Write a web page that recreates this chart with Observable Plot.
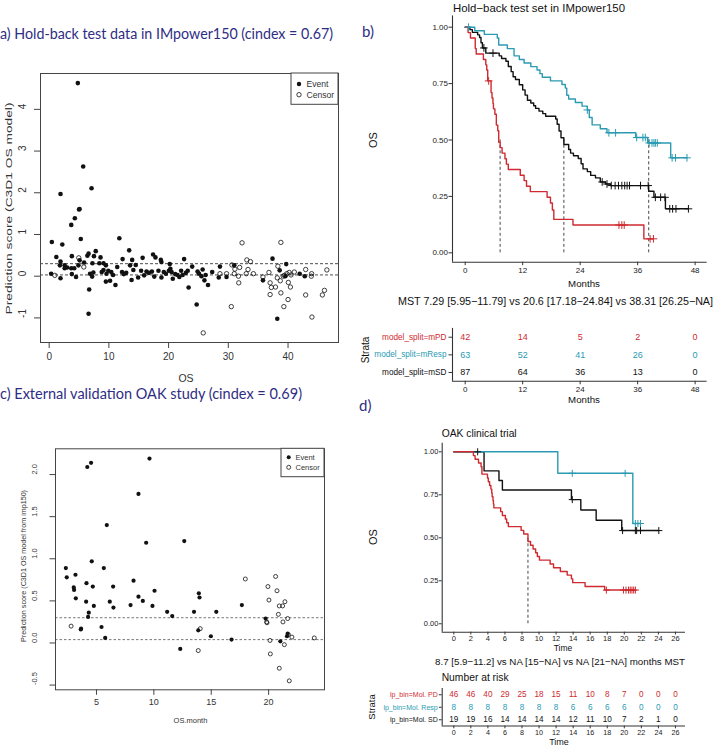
<!DOCTYPE html>
<html><head><meta charset="utf-8">
<script src="https://cdn.jsdelivr.net/npm/d3@7"></script>
<script src="https://cdn.jsdelivr.net/npm/@observablehq/plot@0.6"></script>
<style>
html,body{margin:0;padding:0;background:#fff;}
#root{position:relative;width:715px;height:746px;overflow:hidden;background:#fff;}
</style></head><body><div id="root"></div>
<script>
// ---------------- DATA ----------------
// Panel a: hold-back test data scatter (OS vs prediction score)
const a_event_os = [0.33,0.45,1.2,1.9,1.9,1.9,1.8,2.2,2.6,2.6,3.0,3.7,3.8,3.7,3.8,4.3,4.2,4.5,4.8,5.0,5.1,5.1,5.3,4.9,5.7,5.85,6.4,6.6,6.7,6.6,7.1,6.85,7.2,7.25,7.5,7.8,7.4,8.4,8.6,8.8,9.1,9.1,9.5,9.5,9.6,9.9,10.2,10.4,10.7,11.1,11.4,11.75,12.2,12.3,12.5,12.9,13.4,13.55,13.8,13.9,14.1,14.5,14.9,15.4,15.65,15.9,16.3,16.7,17.2,17.4,17.8,17.6,18.3,18.7,18.8,18.8,19.2,19.55,20.05,20.2,20.3,20.5,20.7,21.1,21.5,21.8,22.1,22.35,22.6,22.9,23.2,23.35,23.95,24.7,24.85,25.1,25.5,25.7,26.0,26.2,26.6,27.3,28.4,28.6,29.7,31.0,35.8,37.4,38.2,38.6,39.7,39.55,41.95,42.8];
const a_event_score = [0.06,0.82,0.46,-0.05,1.97,0.35,0.26,0.76,0.19,0.26,0.21,1.23,0.48,0.19,0.05,1.39,0.19,-0.02,4.63,1.6,1.61,0.38,0.89,0.26,2.63,0.33,0.49,0.54,-0.32,-0.90,2.11,0.06,-0.01,0.31,0.48,0.6,0.09,0.31,0.45,0.10,0.31,0.15,0.26,-0.13,0.06,0.13,-0.11,0.10,0.03,-0.21,0.22,0.91,0.10,0.41,0.05,0.08,0.62,0.26,-0.09,0.39,0.15,0.27,-0.03,0.13,0.44,0.02,0.11,0.08,0.11,0.52,0.45,-0.01,0.13,0.39,0.34,-0.03,0.10,0.06,0.13,0.29,0.18,0.10,-0.06,0.05,0.03,-0.02,0.13,0.03,0.41,0.08,0.13,-0.27,0.23,-0.68,0.11,0.06,0.0,0.16,-0.10,0.03,-0.21,0.10,-0.03,0.23,-0.02,0.26,-0.10,0.42,-1.02,0.14,0.29,0.0,0.06,0.0];
const a_censor_os = [0.95,4.96,5.8,25.8,28.6,29.7,30.5,30.6,31.0,31.1,31.7,31.75,31.9,32.3,33.0,33.1,33.3,33.7,34.2,35.8,36.8,37.0,37.0,37.2,37.9,38.2,38.3,38.7,38.8,38.8,39.2,39.3,39.4,39.8,40.0,40.05,40.2,40.4,40.5,41.05,42.95,42.95,43.9,43.95,44.0,45.75,46.1,46.5];
const a_censor_score = [0.02,0.44,0.22,-1.36,0.06,0.06,-0.73,0.27,0.06,0.17,0.0,-0.16,0.21,0.80,0.06,0.39,0.16,0.35,0.06,-0.02,0.09,-0.16,-0.44,-0.27,-0.26,-0.04,0.24,-0.11,0.81,-0.40,0.0,-0.73,0.02,0.06,-0.56,-0.15,0.09,-0.26,0.03,0.10,0.16,-0.45,0.0,0.06,-0.98,-0.45,-0.34,0.15];
const a_cutoffs = [0.3, 0.03];
const a_xticks = [0,10,20,30,40];
const a_yticks = [-1,0,1,2,3,4];

// Panel c: OAK external validation scatter
const c_event_month = [2.33,2.41,3.17,3.02,3.05,3.2,3.63,3.66,4.13,4.1,4.2,4.27,4.33,4.53,4.59,4.68,4.77,5.44,5.64,5.76,5.9,6.16,6.45,6.48,7.97,8.23,8.66,8.66,9.04,9.33,9.62,9.88,10.06,11.16,11.6,12.3,12.65,13.5,13.87,13.92,13.98,14.97,15.44,16.77,17.67,19.74,21.02,21.6,21.66];
const c_event_score = [0.89,0.78,0.81,0.66,0.63,0.53,0.16,0.17,0.71,0.49,2.09,0.31,0.36,2.14,0.97,0.67,0.44,0.19,0.89,0.06,1.40,0.49,0.67,0.42,0.45,0.74,1.77,0.55,0.50,1.19,2.19,0.44,0.62,0.37,0.32,-0.07,1.21,0.37,0.15,0.59,0.54,0.08,0.37,0.04,0.45,0.29,0.02,0.08,0.11];
const c_censor_month = [2.79,13.87,14.04,17.97,19.83,19.86,19.94,20.03,20.12,20.15,20.61,20.73,20.85,20.93,20.93,21.22,21.25,21.37,21.42,21.66,21.72,21.8,22.03,23.98];
const c_censor_score = [0.20,-0.09,0.17,0.76,0.25,0.24,0.67,0.51,0.03,-0.13,0.79,0.62,0.34,0.44,-0.30,0.44,0.25,-0.02,0.49,0.29,0.10,-0.45,0.07,0.06];
const c_cutoffs = [0.3, 0.04];
const c_xticks = [5,10,15,20];
const c_yticks = [-0.5,0,0.5,1,1.5,2];

// Panel b: KM curves, hold-back test set in IMpower150
const b_mPD_time = [0,0.6,1.1,2.1,2.3,3.8,4.3,4.5,4.7,5.4,5.6,5.8,5.9,6.2,6.5,6.8,7.0,7.3,7.7,8.3,8.6,9.0,11.5,12.3,12.8,13.6,17.1,17.8,18.2,18.5,22.5,37.3,39.3];
const b_mPD_surv = [1,0.976,0.952,0.905,0.881,0.857,0.833,0.81,0.762,0.71,0.686,0.662,0.638,0.614,0.566,0.541,0.49,0.466,0.442,0.417,0.393,0.369,0.344,0.32,0.295,0.271,0.246,0.221,0.19,0.148,0.123,0.062,0.062];
const b_mPD_cens = [4.9,32.1,32.7,33.2,38.6,39.3];
const b_mResp_time = [0,2.0,4.0,6.7,7.0,8.8,10.2,11.3,12.3,13.7,15.0,15.6,16.1,17.8,20.2,20.9,21.2,21.6,23.0,24.4,25.5,25.9,26.5,28.2,29.6,35.6,38.1,42.9,46.3];
const b_mResp_surv = [1,0.984,0.968,0.952,0.921,0.905,0.873,0.857,0.841,0.825,0.81,0.794,0.778,0.762,0.746,0.73,0.698,0.682,0.666,0.65,0.633,0.6,0.567,0.55,0.532,0.511,0.487,0.421,0.421];
const b_mResp_cens = [0.7,25.5,30.0,31.4,35.8,37.1,37.6,38.4,39.0,39.4,39.7,40.1,43.2,43.9,46.3];
const b_mSD_time = [0,1.0,1.5,2.6,3.0,3.3,3.6,4.3,7.1,7.6,8.5,9.0,9.6,10.0,10.5,11.3,12.0,12.5,13.0,13.7,14.3,14.7,15.4,16.2,16.8,18.9,19.2,19.6,20.0,20.6,21.6,22.0,22.6,23.6,24.2,24.6,25.5,26.2,27.2,28.2,29.3,30.3,38.3,39.4,41.8,46.6];
const b_mSD_surv = [1,0.989,0.977,0.966,0.954,0.931,0.908,0.885,0.873,0.861,0.849,0.826,0.803,0.78,0.768,0.745,0.722,0.699,0.676,0.664,0.652,0.64,0.628,0.617,0.605,0.593,0.57,0.54,0.51,0.48,0.458,0.442,0.43,0.418,0.395,0.372,0.36,0.343,0.332,0.314,0.305,0.298,0.273,0.246,0.195,0.195];
const b_mSD_cens = [3.9,5.8,28.6,29.6,30.5,31.3,32.0,32.7,33.3,33.8,34.3,36.6,38.2,39.7,40.8,41.7,42.7,43.3,44.0,46.6];
const b_medians = [7.29, 20.6, 38.31];
const b_xticks = [0,12,24,36,48];
const b_yticks = [0,0.25,0.5,0.75,1];
const b_strata = ["model_split=mPD","model_split=mResp","model_split=mSD"];
const b_risk_times = [0,12,24,36,48];
const b_risk_mPD = [42,14,5,2,0];
const b_risk_mResp = [63,52,41,26,0];
const b_risk_mSD = [87,64,36,13,0];

// Panel d: KM curves, OAK clinical trial
const d_PD_time = [0,2.3,2.5,2.9,3.2,3.3,3.95,4.05,4.2,4.35,4.45,4.5,4.6,4.65,4.7,5.5,5.7,6.05,6.2,6.4,7.9,8.2,8.7,9.0,9.3,9.6,9.8,10.05,11.3,11.7,12.5,13.3,13.8,13.95,15.4,17.7,21.3];
const d_PD_surv = [1,0.978,0.957,0.935,0.913,0.87,0.848,0.826,0.804,0.783,0.761,0.739,0.717,0.696,0.674,0.652,0.63,0.609,0.587,0.565,0.543,0.522,0.478,0.457,0.435,0.413,0.391,0.37,0.348,0.326,0.304,0.283,0.261,0.239,0.217,0.196,0.196];
const d_PD_cens = [17.9,19.9,20.2,20.5,20.7,20.9,21.1,21.3];
const d_Resp_time = [0,12.2,21.0,21.9];
const d_Resp_surv = [1,0.875,0.583,0.583];
const d_Resp_cens = [13.9,20.1,21.3,21.6,21.9];
const d_SD_time = [0,3.55,5.3,5.7,13.8,14.9,16.7,19.7,24.05];
const d_SD_surv = [1,0.889,0.833,0.778,0.722,0.662,0.602,0.542,0.542];
const d_SD_cens = [2.8,13.9,19.8,21.3,21.45,21.9,24.05];
const d_medians = [8.7];
const d_xticks = [0,2,4,6,8,10,12,14,16,18,20,22,24,26];
const d_yticks = [0,0.25,0.5,0.75,1];
const d_strata = ["lp_bin=Mol. PD","lp_bin=Mol. Resp","lp_bin=Mol. SD"];
const d_risk_times = [0,2,4,6,8,10,12,14,16,18,20,22,24,26];
const d_risk_PD = [46,46,40,29,25,18,15,11,10,8,7,0,0,0];
const d_risk_Resp = [8,8,8,8,8,8,8,6,6,6,6,0,0,0];
const d_risk_SD = [19,19,16,14,14,14,14,12,11,10,7,2,1,0];

// ---------------- DRAWING ----------------
const FONT = "'Liberation Sans', Arial, Helvetica, sans-serif";
const TFONT = "Lato, 'Open Sans', sans-serif";
const RED = "#cf2a30", TEAL = "#2a9bb2", BLK = "#111111", NAVY = "#2e2d84";
const root = document.getElementById("root");
function put(svg, left, top) {
  svg.style.position = "absolute"; svg.style.left = left + "px"; svg.style.top = top + "px";
  svg.style.maxWidth = "none"; root.appendChild(svg);
}
const zip = (xs, ys) => xs.map((x, i) => ({x, y: ys[i]}));
function stepAt(T, S, t) { let s = S[0]; for (let i = 0; i < T.length; i++) if (T[i] <= t) s = S[i]; return s; }
const cens = (C, T, S) => C.map(t => ({x: t, y: stepAt(T, S, t)}));

// ---- Panel a ----
put(Plot.plot({
  width: 360, height: 330, marginLeft: 40, marginRight: 22, marginTop: 13, marginBottom: 48,
  style: {fontFamily: FONT, fontSize: "10px", background: "transparent", color: "#333"},
  x: {domain: [-1.45, 48.45]}, y: {domain: [-1.59, 4.86]},
  marks: [
    Plot.ruleY(a_cutoffs, {stroke: "#222", strokeWidth: 0.8, strokeDasharray: "3,2"}),
    Plot.dot(zip(a_event_os, a_event_score), {x: "x", y: "y", r: 2.3, fill: "#111", stroke: "none"}),
    Plot.dot(zip(a_censor_os, a_censor_score), {x: "x", y: "y", r: 2.2, stroke: "#111", strokeWidth: 0.8, fill: "none"}),
    Plot.frame({stroke: "#444", strokeWidth: 1}),
    Plot.axisX({ticks: a_xticks, tickSize: 6, tickPadding: 4, label: null, fontSize: 10, stroke: "#444"}),
    Plot.axisY({ticks: a_yticks, tickSize: 6, tickFormat: () => "", label: null, stroke: "#444"}),
    Plot.text(a_yticks, {y: d => d, text: d => String(d), frameAnchor: "left", dx: -18, rotate: -90, fontSize: 10, fill: "#333"})
  ]
}), 0, 60);

// ---- Panel c ----
put(Plot.plot({
  width: 360, height: 300, marginLeft: 55, marginRight: 36, marginTop: 18.3, marginBottom: 40.7,
  style: {fontFamily: FONT, fontSize: "9px", background: "transparent", color: "#333"},
  x: {domain: [1.43, 24.87]}, y: {domain: [-0.556, 2.306]},
  marks: [
    Plot.ruleY(c_cutoffs, {stroke: "#777", strokeWidth: 1, strokeDasharray: "2.5,2"}),
    Plot.dot(zip(c_event_month, c_event_score), {x: "x", y: "y", r: 2.1, fill: "#111", stroke: "none"}),
    Plot.dot(zip(c_censor_month, c_censor_score), {x: "x", y: "y", r: 2.0, stroke: "#111", strokeWidth: 0.8, fill: "none"}),
    Plot.frame({stroke: "#444", strokeWidth: 1}),
    Plot.axisX({ticks: c_xticks, tickSize: 5.5, tickPadding: 3.5, label: null, fontSize: 9, stroke: "#444"}),
    Plot.axisY({ticks: c_yticks, tickSize: 5.5, tickFormat: () => "", label: null, stroke: "#444"}),
    Plot.text(c_yticks, {y: d => d, text: d => d.toFixed(1), frameAnchor: "left", dx: -21, rotate: -90, fontSize: 7.5, fill: "#333"})
  ]
}), 0, 430);

// ---- Panel b main KM ----
const bX = [-2.65, 50.5];
put(Plot.plot({
  width: 355, height: 300, marginLeft: 92, marginRight: 8.4, marginTop: 15.4, marginBottom: 38.3,
  style: {fontFamily: FONT, fontSize: "8px", background: "transparent", color: "#222"},
  x: {domain: bX}, y: {domain: [-0.0416, 1.05]},
  marks: [
    Plot.ruleX(b_medians, {x: d => d, y1: 0, y2: 0.5, stroke: "#333", strokeWidth: 0.9, strokeDasharray: "3,2.5"}),
    Plot.line(zip(b_mSD_time, b_mSD_surv), {x: "x", y: "y", curve: "step-after", stroke: BLK, strokeWidth: 1.4}),
    Plot.line(zip(b_mResp_time, b_mResp_surv), {x: "x", y: "y", curve: "step-after", stroke: TEAL, strokeWidth: 1.4}),
    Plot.line(zip(b_mPD_time, b_mPD_surv), {x: "x", y: "y", curve: "step-after", stroke: RED, strokeWidth: 1.4}),
    Plot.dot(cens(b_mSD_cens, b_mSD_time, b_mSD_surv), {x: "x", y: "y", symbol: "plus", r: 2.6, stroke: BLK, strokeWidth: 1}),
    Plot.dot(cens(b_mResp_cens, b_mResp_time, b_mResp_surv), {x: "x", y: "y", symbol: "plus", r: 2.6, stroke: TEAL, strokeWidth: 1}),
    Plot.dot(cens(b_mPD_cens, b_mPD_time, b_mPD_surv), {x: "x", y: "y", symbol: "plus", r: 2.6, stroke: RED, strokeWidth: 1}),
    Plot.ruleX([bX[0]], {stroke: "#333", strokeWidth: 1.1}),
    Plot.ruleY([-0.0416], {stroke: "#333", strokeWidth: 1.1}),
    Plot.axisX({ticks: b_xticks, tickSize: 3.5, tickPadding: 1.5, label: null, fontSize: 8, stroke: "#333"}),
    Plot.axisY({ticks: b_yticks, tickSize: 3.5, tickPadding: 1, tickFormat: d => d.toFixed(2), label: null, fontSize: 8, stroke: "#333"})
  ]
}), 360, 0);

// ---- Panel b risk table ----
const bRows = [b_risk_mPD, b_risk_mResp, b_risk_mSD].flatMap((arr, r) => arr.map((n, i) => ({t: b_risk_times[i], r, n})));
const rowCol = [RED, TEAL, BLK];
put(Plot.plot({
  width: 355, height: 90, marginLeft: 92, marginRight: 8.4, marginTop: 7.9, marginBottom: 29.2,
  style: {fontFamily: FONT, fontSize: "8px", background: "transparent", color: "#222"},
  x: {domain: bX}, y: {domain: [-0.5, 2.5], reverse: true},
  marks: [
    Plot.text(bRows, {x: "t", y: "r", text: "n", fill: d => rowCol[d.r], fontSize: 9}),
    Plot.text(b_strata, {y: (d, i) => i, text: d => d, fill: (d, i) => rowCol[i], frameAnchor: "left", textAnchor: "end", dx: -6, fontSize: 8.2}),
    Plot.ruleX([bX[0]], {stroke: "#333", strokeWidth: 1.1}),
    Plot.ruleY([2.5], {stroke: "#333", strokeWidth: 1.1}),
    Plot.axisX({ticks: b_xticks, tickSize: 3.5, tickPadding: 1.5, label: null, fontSize: 8, stroke: "#333"}),
    Plot.axisY({ticks: [0, 1, 2], tickSize: 3.5, tickFormat: () => "", label: null, stroke: "#333"})
  ]
}), 360, 320);

// ---- Panel d main KM ----
const dX = [-1.36, 27.18];
put(Plot.plot({
  width: 355, height: 230, marginLeft: 81.7, marginRight: 30, marginTop: 12.7, marginBottom: 28.3,
  style: {fontFamily: FONT, fontSize: "7.5px", background: "transparent", color: "#222"},
  x: {domain: dX}, y: {domain: [-0.049, 1.05]},
  marks: [
    Plot.ruleX(d_medians, {x: d => d, y1: 0, y2: 0.5, stroke: "#333", strokeWidth: 0.9, strokeDasharray: "3,2.5"}),
    Plot.line(zip(d_SD_time, d_SD_surv), {x: "x", y: "y", curve: "step-after", stroke: BLK, strokeWidth: 1.4}),
    Plot.line(zip(d_Resp_time, d_Resp_surv), {x: "x", y: "y", curve: "step-after", stroke: TEAL, strokeWidth: 1.4}),
    Plot.line(zip(d_PD_time, d_PD_surv), {x: "x", y: "y", curve: "step-after", stroke: RED, strokeWidth: 1.4}),
    Plot.dot(cens(d_SD_cens, d_SD_time, d_SD_surv), {x: "x", y: "y", symbol: "plus", r: 2.4, stroke: BLK, strokeWidth: 1}),
    Plot.dot(cens(d_Resp_cens, d_Resp_time, d_Resp_surv), {x: "x", y: "y", symbol: "plus", r: 2.4, stroke: TEAL, strokeWidth: 1}),
    Plot.dot(cens(d_PD_cens, d_PD_time, d_PD_surv), {x: "x", y: "y", symbol: "plus", r: 2.4, stroke: RED, strokeWidth: 1}),
    Plot.ruleX([dX[0]], {stroke: "#333", strokeWidth: 1.1}),
    Plot.ruleY([-0.049], {stroke: "#333", strokeWidth: 1.1}),
    Plot.axisX({ticks: d_xticks, tickSize: 2.8, tickPadding: 0.5, label: null, fontSize: 7.5, stroke: "#333"}),
    Plot.axisY({ticks: d_yticks, tickSize: 2.8, tickPadding: 1, tickFormat: d => d.toFixed(2), label: null, fontSize: 7.5, stroke: "#333"})
  ]
}), 360, 430);

// ---- Panel d risk table ----
const dRows = [d_risk_PD, d_risk_Resp, d_risk_SD].flatMap((arr, r) => arr.map((n, i) => ({t: d_risk_times[i], r, n})));
put(Plot.plot({
  width: 355, height: 62, marginLeft: 81.7, marginRight: 30, marginTop: 4, marginBottom: 20.5,
  style: {fontFamily: FONT, fontSize: "7.5px", background: "transparent", color: "#222"},
  x: {domain: dX}, y: {domain: [-0.5, 2.5], reverse: true},
  marks: [
    Plot.text(dRows, {x: "t", y: "r", text: "n", fill: d => rowCol[d.r], fontSize: 8.2}),
    Plot.text(d_strata, {y: (d, i) => i, text: d => d, fill: (d, i) => rowCol[i], frameAnchor: "left", textAnchor: "end", dx: -4.5, fontSize: 7}),
    Plot.ruleX([dX[0]], {stroke: "#333", strokeWidth: 1.1}),
    Plot.ruleY([2.5], {stroke: "#333", strokeWidth: 1.1}),
    Plot.axisX({ticks: d_xticks, tickSize: 2.8, tickPadding: 0.8, label: null, fontSize: 7.2, stroke: "#333"}),
    Plot.axisY({ticks: [0, 1, 2], tickSize: 2.8, tickFormat: () => "", label: null, stroke: "#333"})
  ]
}), 360, 684);

// ---- Overlay: titles, axis titles, legends ----
const ov = d3.select(root).append("svg")
  .attr("width", 715).attr("height", 746)
  .style("position", "absolute").style("left", "0px").style("top", "0px")
  .style("pointer-events", "none");
function txt(s, x, y, o = {}) {
  const t = ov.append("text").text(s)
    .attr("font-family", o.family || FONT)
    .attr("font-size", o.size || 10)
    .attr("fill", o.color || "#111")
    .attr("text-anchor", o.anchor || "start");
  if (o.rotate) t.attr("transform", `translate(${x},${y}) rotate(${o.rotate})`);
  else t.attr("x", x).attr("y", y);
  if (o.len) t.attr("textLength", o.len).attr("lengthAdjust", "spacingAndGlyphs");
  return t;
}
// panel titles
txt("a) Hold-back test data in IMpower150 (cindex = 0.67)", 0, 39, {family: TFONT, size: 14.5, color: NAVY, len: 333});
txt("c) External validation OAK study (cindex = 0.69)", 0, 399, {family: TFONT, size: 14.5, color: NAVY, len: 302});
txt("b)", 362, 37, {family: TFONT, size: 15, color: NAVY});
txt("d)", 359, 411, {family: TFONT, size: 15, color: NAVY});
// panel a axis titles + legend
txt("Prediction score (C3D1 OS model)", 12, 208.5, {rotate: -90, anchor: "middle", size: 9.5, color: "#333", len: 212});
txt("OS", 186, 382, {anchor: "middle", size: 10.5, color: "#333"});
function legend(x, y, w, h, cx, y1, y2, tx, fs, r) {
  ov.append("rect").attr("x", x).attr("y", y).attr("width", w).attr("height", h)
    .attr("fill", "#fff").attr("stroke", "#444").attr("stroke-width", 1);
  ov.append("circle").attr("cx", cx).attr("cy", y1).attr("r", r).attr("fill", "#111");
  ov.append("circle").attr("cx", cx).attr("cy", y2).attr("r", r).attr("fill", "none").attr("stroke", "#111").attr("stroke-width", 0.8);
  txt("Event", tx, y1 + fs * 0.36, {size: fs, color: "#333"});
  txt("Censor", tx, y2 + fs * 0.36, {size: fs, color: "#333"});
}
legend(291, 73, 47, 31.3, 299, 84, 94.7, 306.5, 8.6, 2.2);
// panel c axis titles + legend
txt("Prediction score (C3D1 OS model from imp150)", 26, 566, {rotate: -90, anchor: "middle", size: 7.5, color: "#333", len: 152});
txt("OS.month", 190.5, 723, {anchor: "middle", size: 7.5, color: "#333"});
legend(281, 448.3, 43, 28.4, 288.7, 457.3, 467.3, 295.5, 7.5, 2);
// panel b texts
txt("Hold\u2212back test set in IMpower150", 453, 12, {size: 11.4, len: 172});
txt("OS", 377, 140, {rotate: -90, anchor: "middle", size: 11});
txt("Months", 584, 286.5, {anchor: "middle", size: 9.7});
txt("MST 7.29 [5.95\u221211.79] vs 20.6 [17.18\u221224.84] vs 38.31 [26.25\u2212NA]", 555.5, 305, {anchor: "middle", size: 10.7, len: 315});
txt("Strata", 368.5, 350, {rotate: -90, anchor: "middle", size: 10});
txt("Months", 584, 403, {anchor: "middle", size: 9.7});
// panel d texts
txt("OAK clinical trial", 441.7, 436.7, {size: 10.3});
txt("OS", 377, 537, {rotate: -90, anchor: "middle", size: 11});
txt("Time", 563, 651, {anchor: "middle", size: 8.5});
txt("8.7 [5.9\u221211.2] vs NA [15\u2212NA] vs NA [21\u2212NA] months MST", 560, 664.5, {anchor: "middle", size: 9.7, len: 250});
txt("Number at risk", 441.7, 681, {size: 10.3});
txt("Strata", 375, 707, {rotate: -90, anchor: "middle", size: 9.5});
txt("Time", 559, 744.5, {anchor: "middle", size: 9});
</script></body></html>
